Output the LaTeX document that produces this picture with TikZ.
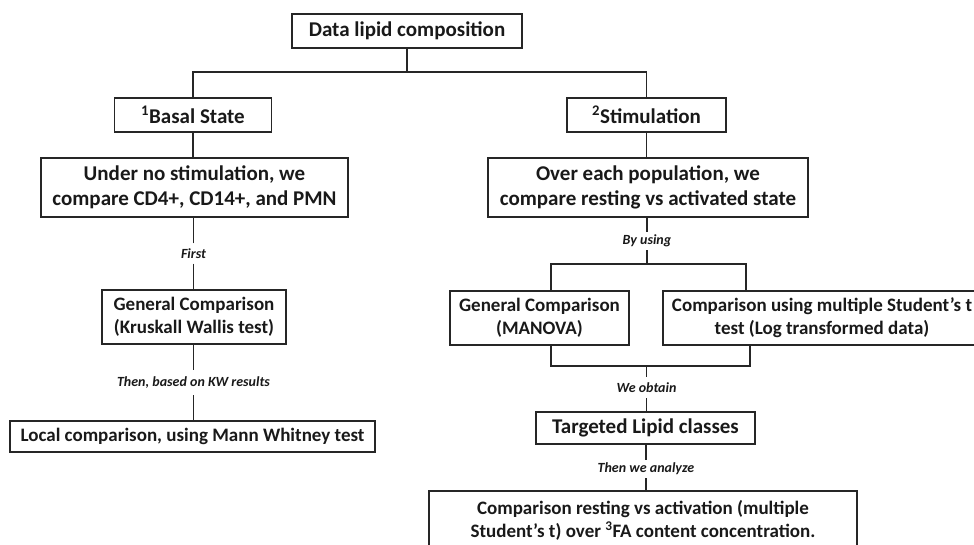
\documentclass[tikz,border=0pt]{standalone}
\usepackage{fontspec}
\setmainfont{Carlito}
\begin{document}
\begin{tikzpicture}[x=1pt,y=-1pt,
  box/.style={draw=black!85,line width=1.3pt,rectangle,inner sep=0pt,align=center,
    font=\bfseries\fontsize{21}{25}\selectfont,text=black!90},
  smallbox/.style={box,font=\bfseries\fontsize{19}{23}\selectfont},
  lbl/.style={inner sep=0pt,minimum height=20pt,font=\bfseries\itshape\fontsize{14}{16}\selectfont,text=black!90},
  conn/.style={draw=black!85,line width=1.3pt}]
\useasboundingbox (0,0) rectangle (974,545);
\clip (0,0) rectangle (974,545);
% boxes
\node[box,minimum width=230pt,minimum height=34pt] (top) at (407,31) {Data lipid composition};
\node[box,minimum width=157pt,minimum height=34pt] (basal) at (193,115) {\textsuperscript{1}Basal State};
\node[box,minimum width=159pt,minimum height=34pt] (stim) at (646.5,115) {\textsuperscript{2}Stimulation};
\node[box,minimum width=307pt,minimum height=59pt] (under) at (194.5,187.5) {Under no stimulation, we\\compare CD4+, CD14+, and PMN};
\node[box,minimum width=320pt,minimum height=59pt] (over) at (648,187.5) {Over each population, we\\compare resting vs activated state};
\node[smallbox,minimum width=184pt,minimum height=54pt] (kw) at (194,317) {General Comparison\\(Kruskall Wallis test)};
\node[smallbox,minimum width=365pt,minimum height=31pt] (local) at (192.5,436.5) {Local comparison, using Mann Whitney test};
\node[smallbox,minimum width=179pt,minimum height=54pt] (manova) at (539.5,318) {General Comparison\\(MANOVA)};
\node[smallbox,minimum width=318pt,minimum height=54pt] (student) at (822,318) {Comparison using multiple Student’s t\\test (Log transformed data)};
\node[box,minimum width=219pt,minimum height=32pt] (targeted) at (645.5,428) {Targeted Lipid classes};
\node[smallbox,minimum width=428pt,minimum height=58pt] (final) at (643,520) {Comparison resting vs activation (multiple\\Student’s t) over \textsuperscript{3}FA content concentration.};
% labels
\node[lbl] (first) at (193.5,253.5) {First};
\node[lbl,minimum height=25pt] (thenkw) at (193.5,382.5) {Then, based on KW results};
\node[lbl,minimum height=18pt] (byusing) at (647,241) {By using};
\node[lbl,minimum height=21pt] (weobtain) at (646.5,387.5) {We obtain};
\node[lbl,minimum height=18pt] (analyze) at (646,469) {Then we analyze};
% junction coordinates
\coordinate (j1) at (407,72);
\coordinate (aL) at (551,264);
\coordinate (aR) at (746,264);
\coordinate (bL) at (551,366);
\coordinate (bR) at (750,366);
% connectors
\draw[conn] (top.south) -- (j1);
\draw[conn] (basal.north) |- (j1) -| (stim.north);
\draw[conn] (basal.south) -- (basal.south |- under.north);
\draw[conn] (stim.south) -- (stim.south |- over.north);
\draw[conn] (first.north) -- (first.north |- under.south);
\draw[conn] (first.south) -- (first.south |- kw.north);
\draw[conn] (thenkw.north) -- (thenkw.north |- kw.south);
\draw[conn] (thenkw.south) -- (thenkw.south |- local.north);
\draw[conn] (byusing.north) -- (byusing.north |- over.south);
\draw[conn] (byusing.south) -- (byusing.south |- aL);
\draw[conn] (aL |- manova.north) -- (aL) -- (aR) -- (aR |- student.north);
\draw[conn] (bL |- manova.south) -- (bL) -- (bR) -- (bR |- student.south);
\draw[conn] (weobtain.north) -- (weobtain.north |- bL);
\draw[conn] (weobtain.south) -- (weobtain.south |- targeted.north);
\draw[conn] (analyze.north) -- (analyze.north |- targeted.south);
\draw[conn] (analyze.south) -- (analyze.south |- final.north);
\end{tikzpicture}
\end{document}
